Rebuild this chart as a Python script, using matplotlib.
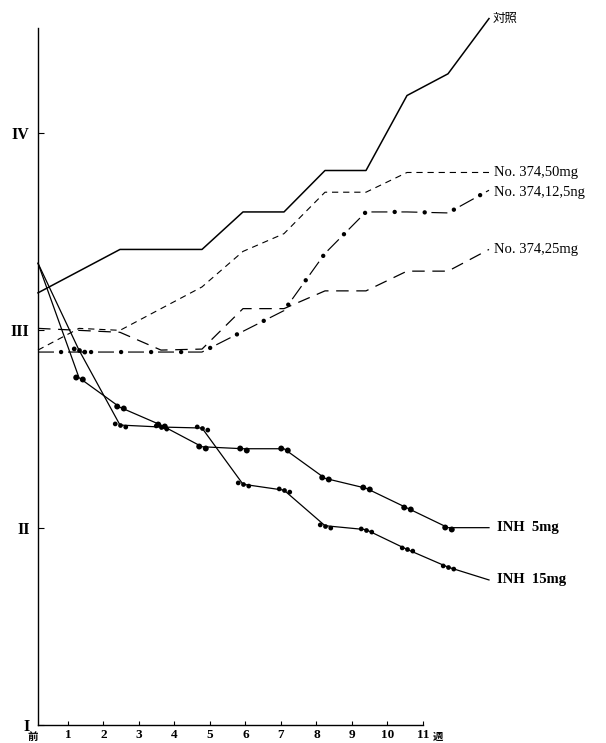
import matplotlib
matplotlib.use("Agg")
from matplotlib import pyplot as plt
from matplotlib.path import Path
from matplotlib import transforms

plt.rcParams['lines.scale_dashes'] = False

# --------------------------- DATA ---------------------------

week_labels = ['前', '1', '2', '3', '4', '5', '6', '7', '8', '9', '10', '11']
grade_labels = ['I', 'II', 'III', 'IV']

ctrl_w = [0, 2, 4, 5, 6, 7, 8, 9, 10, 11]
ctrl_v = [3.19, 3.41, 3.41, 3.60, 3.60, 3.81, 3.81, 4.19, 4.30, 4.58]

n50_w = [0, 1, 2, 4, 5, 6, 7, 8, 9, 10, 11]
n50_v = [2.90, 3.01, 3.00, 3.22, 3.40, 3.49, 3.70, 3.70, 3.80, 3.80, 3.80]

n125_w = [0, 4, 6, 7, 8, 9, 10, 11]
n125_v = [2.89, 2.89, 3.10, 3.39, 3.60, 3.60, 3.595, 3.71]

n25_w = [0, 2, 3, 4, 5, 6, 7, 8, 9, 10, 11]
n25_v = [3.01, 2.99, 2.90, 2.905, 3.11, 3.11, 3.20, 3.20, 3.30, 3.30, 3.41]

inh5_w = [0, 1, 2, 3, 4, 5, 6, 7, 8, 9, 10, 11]
inh5_v = [3.34, 2.76, 2.61, 2.52, 2.41, 2.40, 2.40, 2.25, 2.20, 2.10, 2.00, 2.00]

inh15_w = [0, 1, 2, 3, 4, 5, 6, 7, 8, 9, 10, 11]
inh15_v = [3.34, 2.90, 2.52, 2.51, 2.505, 2.22, 2.19, 2.01, 1.99, 1.89, 1.80, 1.735]

# --------------------------- FIGURE ---------------------------

W, H = 606, 743
fig = plt.figure(figsize=(W / 100, H / 100), dpi=100)
ytop = 1 + 697 / 197.33

# frame axes (tick scale of the printed axis)
ax = fig.add_axes([38 / W, 18 / H, (423 - 38) / W, 697 / H])
ax.set_xlim((38 - 32.5) / 35.5, 11)
ax.set_ylim(1, ytop)
for s in ['top', 'right']:
    ax.spines[s].set_visible(False)
ax.spines['left'].set_linewidth(1.0)
ax.spines['bottom'].set_linewidth(1.0)
ax.set_xticks(range(1, 12), week_labels[1:], fontfamily='Liberation Serif',
              fontweight='bold', fontsize=9.5)
ax.set_yticks([1, 2, 3, 4], grade_labels, fontfamily='Liberation Serif',
              fontweight='bold', fontsize=11.5)
ax.tick_params(axis='x', direction='in', length=3, width=0.8, pad=3)
ax.tick_params(axis='y', direction='in', length=4, width=0.8, pad=6)

trans = transforms.blended_transform_factory(ax.transData, ax.transAxes)
ax.text(0, -0.0165, week_labels[0], transform=trans, ha='center', va='center',
        fontsize=7.5, fontweight='bold', family=['Noto Sans CJK JP'], clip_on=False)
ax.text(11.42, -0.0165, '週', transform=trans, ha='center', va='center',
        fontsize=7.5, fontweight='bold', family=['Noto Sans CJK JP'], clip_on=False)

# data axes (scale of the plotted curves)
dax = fig.add_axes([38 / W, 18 / H, (489 - 38) / W, 697 / H])
dax.set_xlim(0, 11)
dax.set_ylim(1, ytop)
dax.axis('off')

pair = Path.make_compound_path(Path.circle((-0.5, 0.15), 0.45),
                               Path.circle((0.5, -0.15), 0.45))
triple = Path.make_compound_path(Path.circle((-1.0, 0.3), 0.45),
                                 Path.circle((0.0, 0.0), 0.45),
                                 Path.circle((1.0, -0.3), 0.45))

dax.plot(ctrl_w, ctrl_v, color='black', lw=1.1, clip_on=False)
dax.plot(n50_w, n50_v, color='black', lw=0.8, ls=(0, (4.5, 3.5)), clip_on=False)
dax.plot(n25_w, n25_v, color='black', lw=0.9, ls=(0, (9, 5.5)), clip_on=False)
dax.plot(n125_w, n125_v, color='black', lw=0.85, ls=(0, (11.5, 10.1)), clip_on=False)
dax.plot(n125_w, n125_v, color='black', lw=3.2, ls=(5.0, (0.01, 21.6)),
         dash_capstyle='round', clip_on=False)
dax.plot(inh5_w, inh5_v, color='black', lw=0.9, clip_on=False,
         marker=pair, markersize=9, markeredgewidth=0, markevery=slice(1, -1))
dax.plot(inh15_w, inh15_v, color='black', lw=0.9, clip_on=False,
         marker=triple, markersize=11, markeredgewidth=0, markevery=slice(1, -1))

# --------------------------- LABELS ---------------------------

serif = 'Liberation Serif'
dax.text(11.1, ctrl_v[-1], '対照', family=['Noto Sans CJK JP'], fontsize=9,
         ha='left', va='center', clip_on=False)
dax.text(11.12, n50_v[-1], 'No. 374,50mg', family=serif, fontsize=10.5,
         ha='left', va='center')
dax.text(11.12, n125_v[-1] - 0.01, 'No. 374,12,5ng', family=serif, fontsize=10.5,
         ha='left', va='center')
dax.text(11.12, n25_v[-1], 'No. 374,25mg', family=serif, fontsize=10.5,
         ha='left', va='center')
dax.text(11.2, inh5_v[-1], 'INH  5mg', family=serif, fontweight='bold',
         fontsize=10.5, ha='left', va='center')
dax.text(11.2, inh15_v[-1], 'INH  15mg', family=serif, fontweight='bold',
         fontsize=10.5, ha='left', va='center')

fig.savefig('out.png', dpi=100)
